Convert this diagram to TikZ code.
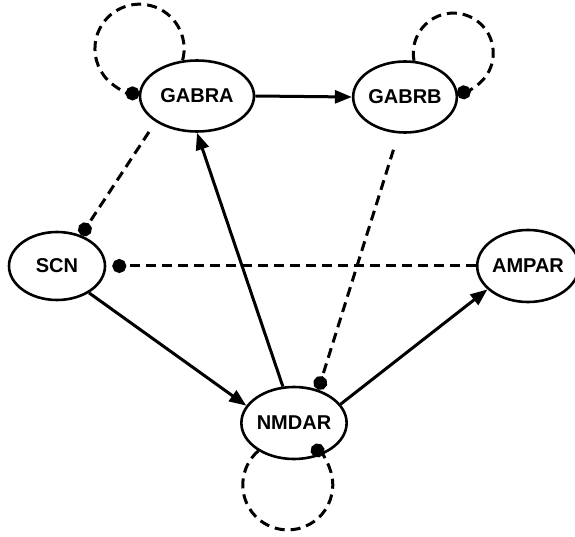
\documentclass[tikz,border=0pt]{standalone}
\usepackage{fontspec}
\setmainfont{Liberation Sans}
\usetikzlibrary{shapes.geometric,arrows.meta}
\tikzstyle{gbox}=[ellipse, draw=black, line width=2.6pt, inner sep=0pt,
                  font=\bfseries\fontsize{20}{24}\selectfont]
\tikzstyle{aline}=[-{Triangle[length=17pt,width=13pt]}, line width=3pt]
\tikzstyle{iline}=[-{Circle[length=14pt]}, line width=3pt,
                   dash pattern=on 10pt off 6pt]

\begin{document}
\begin{tikzpicture}[x=1pt,y=1pt]
\useasboundingbox (0,0) rectangle (575,536);

\node (GABRA) [gbox, minimum width=114pt, minimum height=71pt] at (197,440) {GABRA};
\node (GABRB) [gbox, minimum width=97pt, minimum height=71pt] at (405,439) {GABRB};
\node (SCN) [gbox, minimum width=96pt, minimum height=68pt] at (57,270) {SCN};
\node (AMPAR) [gbox, minimum width=92pt, minimum height=72pt] at (528,270) {AMPAR};
\node (NMDAR) [gbox, minimum width=96pt, minimum height=72pt] at (294,113) {NMDAR};

% activating links
 \draw[aline] (GABRA.east) -- (GABRB.west);
 \draw[aline] (SCN.-40) -- (NMDAR.160);
 \draw[aline] (NMDAR.107) -- (GABRA.south);
 \draw[aline] (NMDAR.22) -- (AMPAR.210);

% inhibiting links
 \draw[iline, shorten <=12pt] (GABRA.212) -- (SCN.52);
 \draw[iline, shorten <=17pt] (GABRB.260) -- (NMDAR.54);
 \draw[iline, shorten >=6pt] (AMPAR.west) -- (SCN.east);

% self loops
 \draw[iline] (GABRA.112) arc[start angle=-15, end angle=270, radius=44.6];
 \draw[iline] (GABRB.76) arc[start angle=191, end angle=-85, radius=40];
 \draw[iline] (NMDAR.218) arc[start angle=131, end angle=418, radius=45];

\end{tikzpicture}
\end{document}
